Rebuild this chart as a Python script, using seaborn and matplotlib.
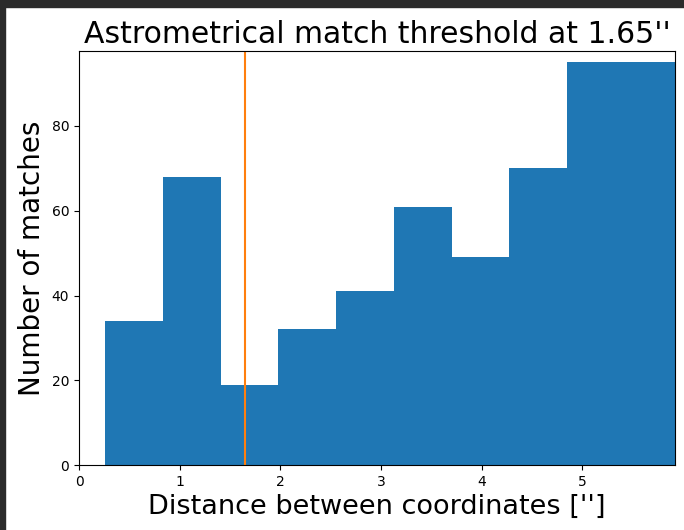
import matplotlib

matplotlib.use("Agg")
import matplotlib.pyplot as plt
import numpy as np
import pandas as pd
import seaborn as sns
from matplotlib.patches import Rectangle

# Histogram: bin edges (arcsec) and counts per bin
bin_edges = [0.258, 0.832, 1.406, 1.980, 2.554, 3.128, 3.702, 4.276, 4.850, 5.92]
counts = [34, 68, 19, 32, 41, 61, 49, 70, 95]
threshold = 1.65

x_ticks = [0, 1, 2, 3, 4, 5]
y_ticks = [0, 20, 40, 60, 80]

edges = np.array(bin_edges)
df = pd.DataFrame({
    "distance": (edges[:-1] + edges[1:]) / 2,
    "count": counts,
})

fig = plt.figure(figsize=(6.84, 5.30), dpi=100)
ax = fig.add_axes([0.1155, 0.1226, 0.8713, 0.7812])

sns.histplot(
    data=df,
    x="distance",
    weights="count",
    bins=bin_edges,
    color="#1f77b4",
    alpha=1,
    edgecolor="none",
    linewidth=0,
    ax=ax,
)
ax.axvline(threshold, color="#ff7f0e", linewidth=1.5)

ax.set_xlim(0, bin_edges[-1])
ax.set_ylim(0, 97.7)
ax.set_xticks(x_ticks)
ax.set_yticks(y_ticks)
ax.tick_params(labelsize=10)

ax.set_title(f"Astrometrical match threshold at {threshold}''", fontsize=21.5)
ax.set_xlabel("Distance between coordinates ['']", fontsize=19.5)
ax.set_ylabel("Number of matches", fontsize=20)

# dark frame of the notebook screenshot (top and left edges)
fig.patches.append(Rectangle((0, 1 - 7 / 530), 1, 7 / 530, transform=fig.transFigure,
                             color="#2b2b2b", zorder=10))
fig.patches.append(Rectangle((0, 0), 5 / 684, 1, transform=fig.transFigure,
                             color="#2b2b2b", zorder=10))

fig.savefig("out.png", dpi=100)
